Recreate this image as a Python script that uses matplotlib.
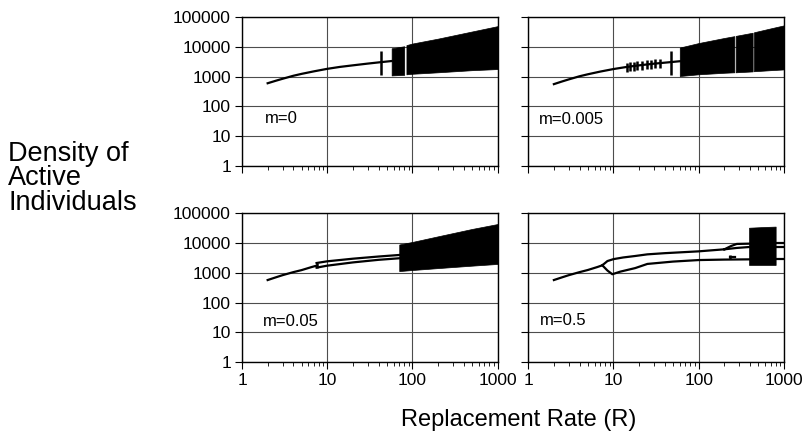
import matplotlib
matplotlib.use("Agg")
import matplotlib.pyplot as plt
from matplotlib.ticker import LogLocator, FixedLocator, NullFormatter

plt.rcParams['font.family'] = ['Liberation Sans', 'DejaVu Sans']

x_ticks = [1, 10, 100, 1000]
x_labels = ["1", "10", "100", "1000"]
y_ticks = [1, 10, 100, 1000, 10000, 100000]
y_labels = ["1", "10", "100", "1000", "10000", "100000"]

# m = 0
m0_R = [2, 2.5, 3, 4, 5, 7, 10, 14, 20, 30, 43, 57]
m0_N = [600, 730, 850, 1070, 1240, 1510, 1830, 2120, 2400, 2750, 3080, 3350]
m0_spike_R = [43]
m0_spike_lo = [1150]
m0_spike_hi = [7100]
m0_bands = [
    ([57, 80], [1100, 1150], [9000, 10500]),
    ([85, 100, 200, 500, 1000], [1200, 1250, 1400, 1650, 1800], [11500, 13000, 19000, 33000, 50000]),
]

# m = 0.005
m1_R = [2, 2.5, 3, 4, 5, 7, 10, 14, 20, 30, 48, 60]
m1_N = [560, 690, 810, 1030, 1200, 1480, 1800, 2100, 2400, 2730, 3100, 3300]
m1_spike_R = [14.4, 15.7, 17.2, 19.1, 21.5, 24.6, 27.4, 30.8, 35.3, 47.5]
m1_spike_lo = [1450, 1500, 1560, 1620, 1680, 1770, 1830, 1900, 1990, 1100]
m1_spike_hi = [2940, 3050, 3160, 3290, 3400, 3580, 3710, 3850, 4030, 7100]
m1_bands = [
    ([60, 100, 200, 262], [1050, 1200, 1350, 1400], [9500, 13500, 20000, 23000]),
    ([272, 430], [1400, 1500], [23500, 30000]),
    ([445, 700, 1000], [1520, 1650, 1750], [31000, 42000, 53000]),
]

# m = 0.05
m2_R = [2, 2.5, 3, 4, 5, 6.5, 7.5]
m2_N = [575, 710, 840, 1060, 1240, 1560, 1750]
m2_loop_R = [7.5, 10, 20, 40, 70]
m2_loop_hi = [2150, 2450, 3000, 3550, 4000]
m2_loop_lo = [1500, 1750, 2250, 2750, 3100]
m2_bands = [
    ([70, 100, 200, 500, 1000], [1150, 1250, 1450, 1750, 2000], [9000, 11000, 17000, 30000, 44000]),
]

# m = 0.5
m3_R = [2, 2.5, 3, 4, 5, 6.5, 7.4]
m3_N = [575, 710, 840, 1060, 1250, 1580, 1800]
m3_up_R = [7.4, 8.5, 10, 13, 18, 25, 40, 100, 200]
m3_up_N = [1800, 2500, 2900, 3300, 3700, 4200, 4600, 5300, 6200]
m3_lo_R = [7.4, 8.5, 9.7, 12, 18, 25, 50, 100, 200, 390]
m3_lo_N = [1800, 1200, 900, 1100, 1450, 2000, 2400, 2700, 2800, 2850]
m3_fork_hi_R = [200, 240, 280, 390]
m3_fork_hi_N = [6200, 8000, 9400, 9600]
m3_fork_lo_R = [200, 280, 390]
m3_fork_lo_N = [6200, 6900, 7400]
m3_dash_R = [230, 270]
m3_dash_N = [3500, 3500]
m3_tail_R = [800, 1000]
m3_tail_N = [[9800, 9800], [7500, 7500], [2850, 2850]]
m3_bands = [
    ([390, 600, 800], [1850, 1850, 1850], [33000, 35000, 36000]),
]

panels = [
    ("m=0", (0.09, 0.32), [(m0_R, m0_N)], (m0_spike_R, m0_spike_lo, m0_spike_hi), m0_bands),
    ("m=0.005", (0.04, 0.31), [(m1_R, m1_N)], (m1_spike_R, m1_spike_lo, m1_spike_hi), m1_bands),
    ("m=0.05", (0.08, 0.27),
     [(m2_R, m2_N), (m2_loop_R, m2_loop_hi), (m2_loop_R, m2_loop_lo)],
     ([m2_loop_R[0]], [m2_loop_lo[0]], [m2_loop_hi[0]]), m2_bands),
    ("m=0.5", (0.045, 0.28),
     [(m3_R, m3_N), (m3_up_R, m3_up_N), (m3_lo_R, m3_lo_N),
      (m3_fork_hi_R, m3_fork_hi_N), (m3_fork_lo_R, m3_fork_lo_N), (m3_dash_R, m3_dash_N)]
     + [(m3_tail_R, n) for n in m3_tail_N],
     ([m3_dash_R[0]], [3000], [3900]), m3_bands),
]

fig = plt.figure(figsize=(8.04, 4.40), dpi=100)
boxes = [
    [0.301, 0.623, 0.318, 0.338],
    [0.657, 0.623, 0.318, 0.338],
    [0.301, 0.177, 0.318, 0.338],
    [0.657, 0.177, 0.318, 0.338],
]

for i, (name, pos, lines, spikes, bands) in enumerate(panels):
    ax = fig.add_axes(boxes[i])
    ax.set_xscale('log')
    ax.set_yscale('log')
    ax.set_xlim(1, 1000)
    ax.set_ylim(1, 100000)
    ax.grid(True, which='major', color='0.3', lw=0.8)
    ax.set_axisbelow(True)

    for R, lo, hi in bands:
        ax.fill_between(R, lo, hi, color='black', lw=0.5, edgecolor='black')
    for R, N in lines:
        ax.plot(R, N, color='black', lw=1.6)
    ax.vlines(spikes[0], spikes[1], spikes[2], color='black', lw=1.8)

    ax.text(pos[0], pos[1], name, transform=ax.transAxes, fontsize=12, va='center')

    ax.xaxis.set_major_locator(FixedLocator(x_ticks))
    ax.yaxis.set_major_locator(FixedLocator(y_ticks))
    ax.xaxis.set_minor_locator(LogLocator(base=10, subs=range(2, 10)))
    ax.yaxis.set_minor_locator(LogLocator(base=10, subs=range(2, 10)))
    ax.xaxis.set_minor_formatter(NullFormatter())
    ax.yaxis.set_minor_formatter(NullFormatter())
    ax.tick_params(which='major', direction='out', length=5, width=0.8, labelsize=12.5, pad=3)
    ax.tick_params(which='minor', direction='out', length=3, width=0.6)
    if i % 2 == 0:
        ax.set_yticklabels(y_labels)
    else:
        ax.set_yticklabels([])
    if i >= 2:
        ax.set_xticklabels(x_labels)
    else:
        ax.set_xticklabels([])
    for s in ax.spines.values():
        s.set_linewidth(1.0)

fig.text(0.01, 0.595, "Density of\nActive\nIndividuals", fontsize=19.5, va='center', ha='left',
         linespacing=0.92)
fig.text(0.645, 0.045, "Replacement Rate (R)", fontsize=17, ha='center', va='center')

fig.savefig("out.png", dpi=100)
